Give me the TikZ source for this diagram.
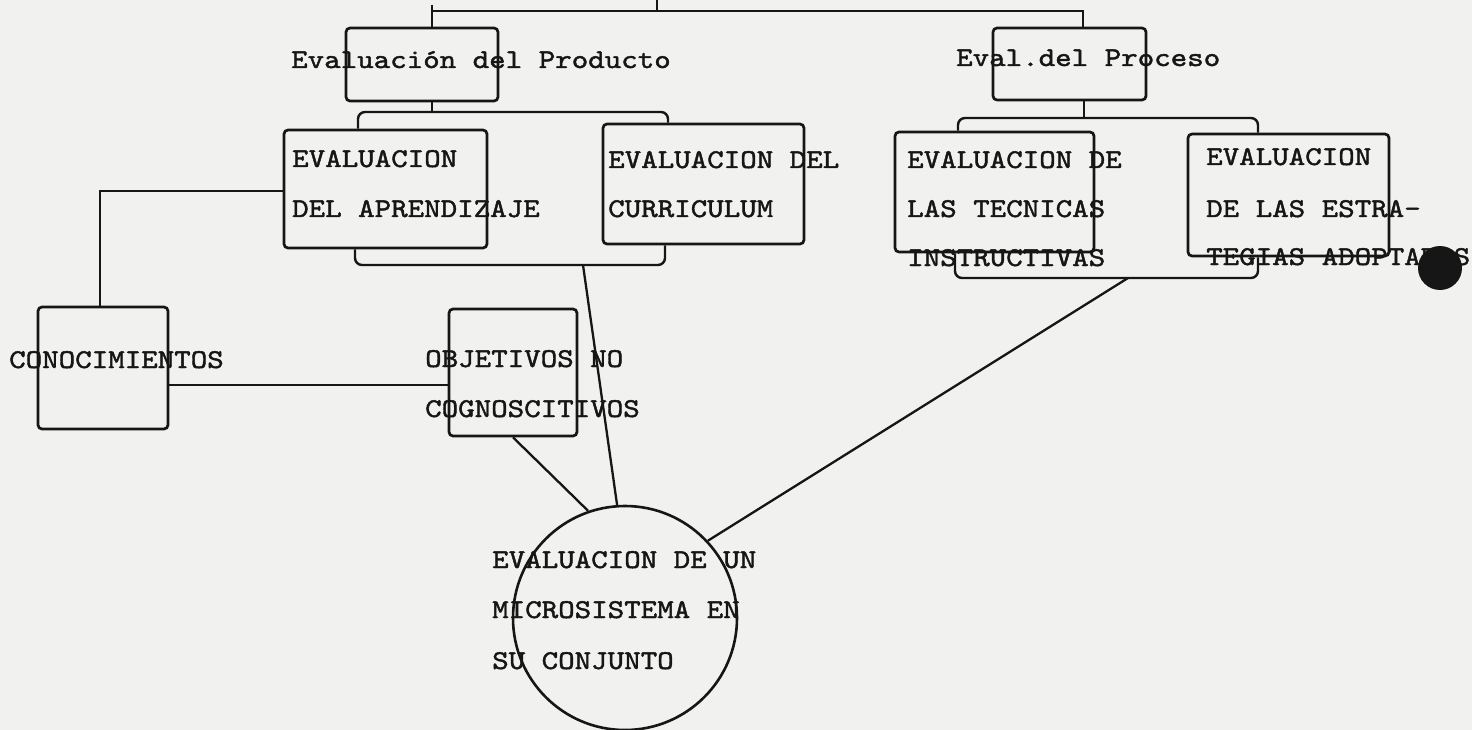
\documentclass[tikz,border=0pt]{standalone}
\usepackage{fontspec}
\newfontfamily\tw[FakeStretch=1.16,FakeBold=1.6]{lmmono10-regular.otf}
\definecolor{paper}{RGB}{241,241,239}
\definecolor{ink}{RGB}{22,22,22}
\begin{document}
\begin{tikzpicture}[x=1pt,y=-1pt,
  box/.style={draw=ink,line width=2.7pt,rounded corners=4pt,inner sep=0pt},
  conn/.style={draw=ink,line width=2.3pt},
  brk/.style={draw=ink,line width=2.4pt,rounded corners=7pt},
  txt/.style={anchor=base west,inner sep=0pt,text=ink,font=\tw\fontsize{27.1}{30}\selectfont}]
\fill[paper] (0,0) rectangle (1472,730);
\useasboundingbox (0,0) rectangle (1472,730);

% boxes
\node[box,minimum width=152pt,minimum height=73pt] (prod) at (422,64.5) {};
\node[box,minimum width=153pt,minimum height=72pt] (proc) at (1069.5,64) {};
\node[box,minimum width=203pt,minimum height=118pt] (apr) at (385.5,189) {};
\node[box,minimum width=201pt,minimum height=120pt] (cur) at (703.5,184) {};
\node[box,minimum width=199pt,minimum height=120pt] (tec) at (994.5,192) {};
\node[box,minimum width=201pt,minimum height=122pt] (est) at (1288.5,195) {};
\node[box,minimum width=130pt,minimum height=122pt] (con) at (103,368) {};
\node[box,minimum width=128pt,minimum height=127pt] (obj) at (513,372.5) {};
\node[draw=ink,line width=2.6pt,circle,minimum size=224pt,inner sep=0pt] (circ) at (625,618) {};

% junction coordinates
\coordinate (t0) at (657,0);
\coordinate (t1) at (657,11);
\coordinate (pl) at (432,11);
\coordinate (plt) at (432,5);
\coordinate (pr) at (1083,11);
\coordinate (pb) at (432,112);
\coordinate (pbl) at (358,112);
\coordinate (pbr) at (668,112);
\coordinate (qbl) at (355,265);
\coordinate (qbr) at (665,265);
\coordinate (qd) at (583,265);
\coordinate (rb) at (1084,118);
\coordinate (rbl) at (958,118);
\coordinate (rbr) at (1258,118);
\coordinate (sbl) at (955,278);
\coordinate (sbr) at (1258,278);
\coordinate (sd) at (1128,278);
\coordinate (al) at (100,191);
\coordinate (cy) at (0,385);

% connectors
\draw[conn] (t0) -- (t1);
\draw[conn] (plt) -- (pl |- prod.north);
\draw[conn] (pl) -- (pr) -- (pr |- proc.north);
\draw[conn] (prod.south -| pb) -- (pb);
\draw[brk] (apr.north -| pbl) -- (pbl) -- (pbr) -- (cur.north -| pbr);
\draw[brk] (apr.south -| qbl) -- (qbl) -- (qbr) -- (cur.south -| qbr);
\draw[conn] (qd) -- (circ.94);
\draw[conn] (proc.south -| rb) -- (rb);
\draw[brk] (tec.north -| rbl) -- (rbl) -- (rbr) -- (est.north -| rbr);
\draw[brk] (tec.south -| sbl) -- (sbl) -- (sbr) -- (est.south -| sbr);
\draw[conn] (sd) -- (circ.43);
\draw[conn] (al -| apr.west) -- (al) -- (con.north -| al);
\draw[conn] (con.east |- cy) -- (obj.west |- cy);
\draw[conn] (obj.south) -- (circ.109);

% texts
\node[txt] (tprod) at (291,68) {Evaluación del Producto};
\node[txt] (tproc) at (956,66) {Eval.del Proceso};
\node[txt] (tapr1) at (292,167) {EVALUACION};
\node[txt] (tapr2) at (292,217) {DEL APRENDIZAJE};
\node[txt] (tcur1) at (608,168) {EVALUACION DEL};
\node[txt] (tcur2) at (608,217) {CURRICULUM};
\node[txt] (ttec1) at (907,168) {EVALUACION DE};
\node[txt] (ttec2) at (907,217) {LAS TECNICAS};
\node[txt] (ttec3) at (907,266) {INSTRUCTIVAS};
\node[txt] (test1) at (1206,165) {EVALUACION};
\node[txt] (test2) at (1206,217) {DE LAS ESTRA-};
\node[txt] (test3) at (1206,265) {TEGIAS ADOPTADAS};
\node[txt] (tcon) at (9,368) {CONOCIMIENTOS};
\node[txt] (tobj1) at (425,367) {OBJETIVOS NO};
\node[txt] (tobj2) at (425,417) {COGNOSCITIVOS};
\node[txt] (tcir1) at (492,568) {EVALUACION DE UN};
\node[txt] (tcir2) at (492,618) {MICROSISTEMA EN};
\node[txt] (tcir3) at (492,669) {SU CONJUNTO};

% punch hole
\fill[ink] (1440,268) circle (22pt);
\end{tikzpicture}
\end{document}
